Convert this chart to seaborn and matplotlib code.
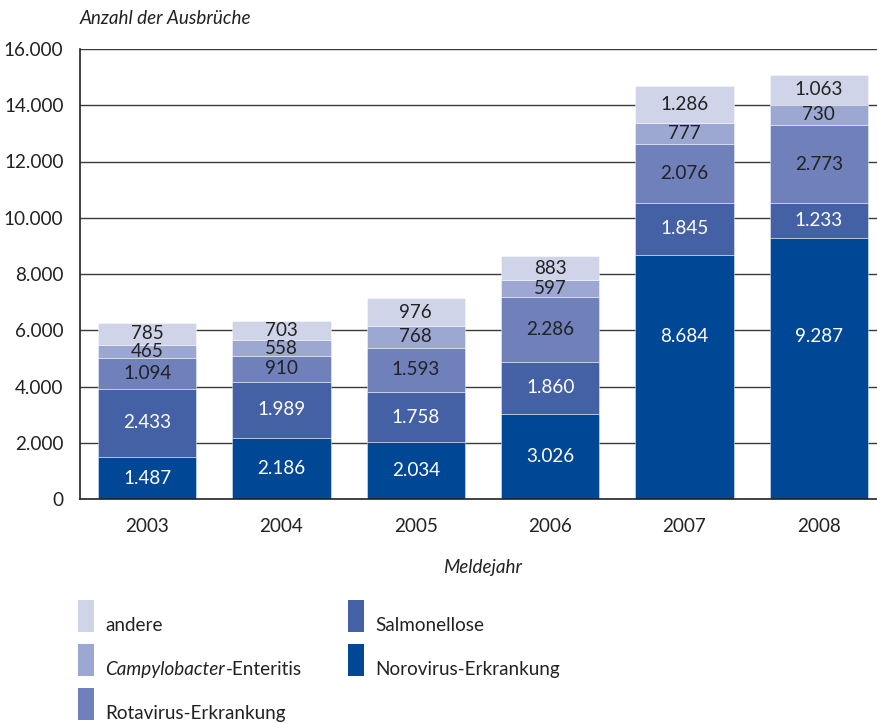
import matplotlib
matplotlib.use("Agg")
import matplotlib.pyplot as plt
import seaborn as sns
import pandas as pd
from matplotlib.patches import Rectangle

# Outbreak counts per reporting year, by pathogen
years = ["2003", "2004", "2005", "2006", "2007", "2008"]
norovirus = [1487, 2186, 2034, 3026, 8684, 9287]
salmonellose = [2433, 1989, 1758, 1860, 1845, 1233]
rotavirus = [1094, 910, 1593, 2286, 2076, 2773]
campylobacter = [465, 558, 768, 597, 777, 730]
andere = [785, 703, 976, 883, 1286, 1063]

series_names = ["Norovirus-Erkrankung", "Salmonellose", "Rotavirus-Erkrankung",
                "Campylobacter-Enteritis", "andere"]
series_values = [norovirus, salmonellose, rotavirus, campylobacter, andere]
series_colors = ["#004895", "#4561a5", "#6f80ba", "#9da8d2", "#cfd4e8"]
label_colors = ["white", "white", "#222222", "#222222", "#222222"]

y_ticks = [0, 2000, 4000, 6000, 8000, 10000, 12000, 14000, 16000]

FS = 13.6
INK = "#222222"
# very tall segments carry their label at a fixed height instead of centred
TALL_SEGMENT = 6000
TALL_LABEL_Y = 5780


def de_fmt(v):
    return f"{int(v):,}".replace(",", ".")


sns.set_theme(style="white")
plt.rcParams["font.family"] = ["Lato", "DejaVu Sans"]

W, H = 878, 723
fig = plt.figure(figsize=(W / 100, H / 100), dpi=100)
ax = fig.add_axes([80 / W, (H - 499) / H, 806 / W, 450 / H])

ax.set_axisbelow(True)
for yv in y_ticks[1:]:
    ax.axhline(yv, color="#3a3a3a", lw=1.0, zorder=0)

bottoms = [0] * len(years)
for name, vals, col, lcol in zip(series_names, series_values, series_colors, label_colors):
    df = pd.DataFrame({"Jahr": years, "Wert": vals})
    sns.barplot(data=df, x="Jahr", y="Wert", color=col, width=0.73,
                bottom=bottoms, saturation=1, edgecolor=(1, 1, 1, 0.5),
                linewidth=0.6, ax=ax, zorder=2)
    cont = ax.containers[-1]
    for patch, b, v in zip(cont.patches, bottoms, vals):
        cx = patch.get_x() + patch.get_width() / 2
        ly = b + v / 2 if v < TALL_SEGMENT else b + TALL_LABEL_Y
        ax.text(cx, ly, de_fmt(v), ha="center", va="center",
                color=lcol, fontsize=FS, zorder=3)
    bottoms = [b + v for b, v in zip(bottoms, vals)]

ax.set_xlim(-0.5, len(years) - 0.5)
ax.set_ylim(0, 16000)
ax.set_yticks(y_ticks)
ax.set_yticklabels([de_fmt(v) for v in y_ticks], fontsize=FS, color=INK)
ax.tick_params(axis="y", length=0, pad=12)
ax.set_xticks(range(len(years)))
ax.set_xticklabels(years, fontsize=FS, color=INK)
ax.tick_params(axis="x", which="major", length=0, pad=14)
ax.set_xticks([i - 0.5 for i in range(len(years) + 1)], minor=True)
ax.tick_params(axis="x", which="minor", length=7, width=1.1, color=INK, direction="out")

for s in ["top", "right"]:
    ax.spines[s].set_visible(False)
for s in ["left", "bottom"]:
    ax.spines[s].set_color(INK)
    ax.spines[s].set_linewidth(1.2)

ax.set_xlabel("Meldejahr", fontsize=FS, style="italic", color=INK, labelpad=17)
ax.set_ylabel("")
fig.text(80 / W, 1 - 18 / H, "Anzahl der Ausbrüche", fontsize=FS, style="italic",
         color=INK, ha="left", va="center")

# Legend: narrow tall swatches in two columns below the plot
legend_items = [
    ("andere", "#cfd4e8", 78, 600),
    ("Campylobacter-Enteritis", "#9da8d2", 78, 644),
    ("Rotavirus-Erkrankung", "#6f80ba", 78, 688),
    ("Salmonellose", "#4561a5", 348, 600),
    ("Norovirus-Erkrankung", "#004895", 348, 644),
]
renderer = fig.canvas.get_renderer()
for text, col, px, py in legend_items:
    fig.patches.append(Rectangle((px / W, 1 - (py + 32) / H), 16 / W, 32 / H,
                                 transform=fig.transFigure, facecolor=col,
                                 edgecolor="none"))
    tx, ty = (px + 27) / W, 1 - (py + 31) / H
    if text.startswith("Campylobacter"):
        t1 = fig.text(tx, ty, "Campylobacter", fontsize=FS, style="italic",
                      color=INK, ha="left", va="baseline")
        bb = t1.get_window_extent(renderer=renderer)
        fig.text(bb.x1 / W + 1 / W, ty, "-Enteritis", fontsize=FS, color=INK,
                 ha="left", va="baseline")
    else:
        fig.text(tx, ty, text, fontsize=FS, color=INK, ha="left", va="baseline")

fig.savefig("out.png", dpi=100)
